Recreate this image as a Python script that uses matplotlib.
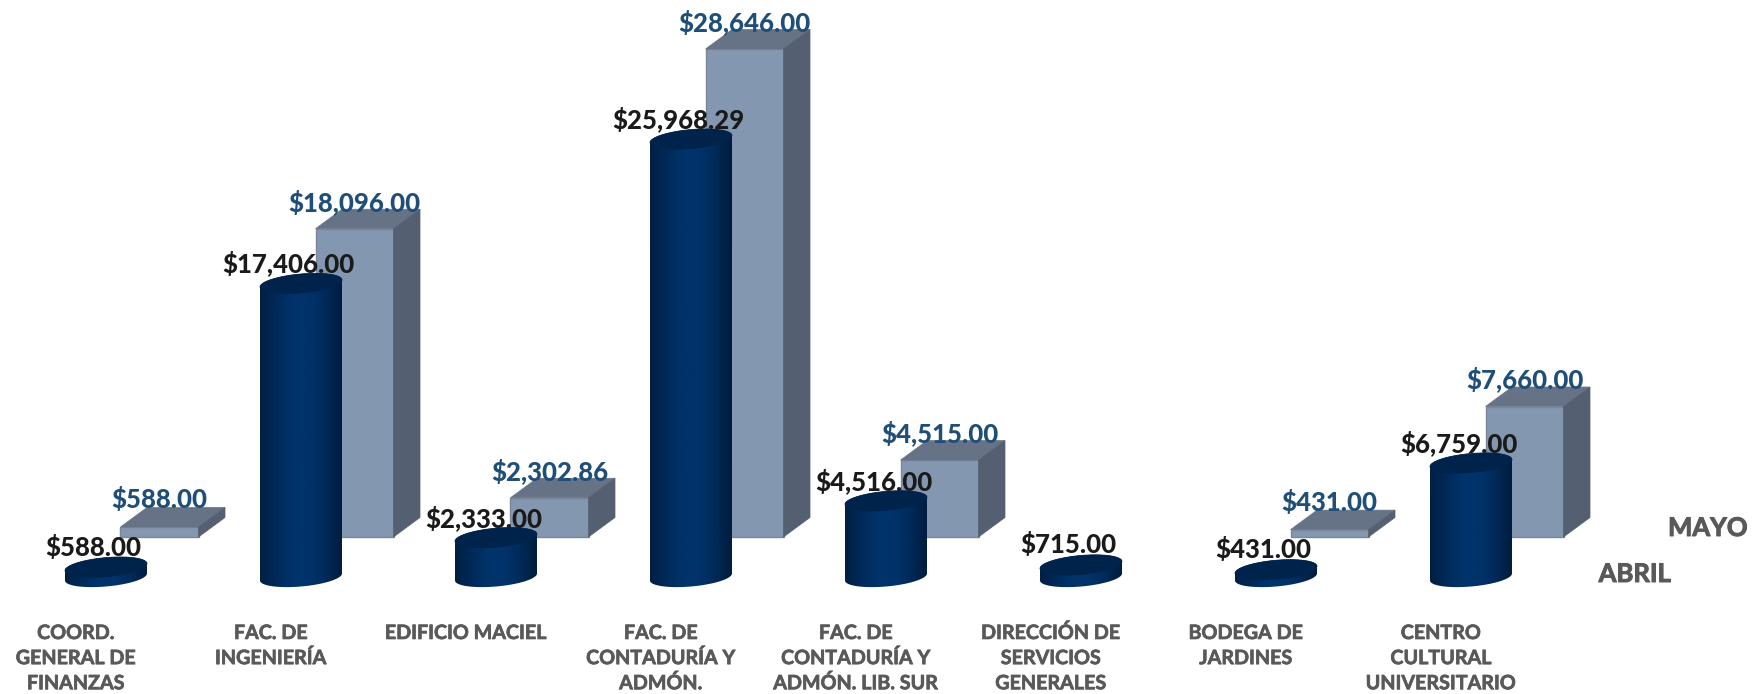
import numpy as np
import matplotlib
matplotlib.use('Agg')
import matplotlib.pyplot as plt
import matplotlib.patheffects as pe
from matplotlib.colors import LinearSegmentedColormap
from matplotlib.patches import Polygon, PathPatch
from matplotlib.path import Path

categories = ['COORD.\nGENERAL DE\nFINANZAS', 'FAC. DE\nINGENIERÍA', 'EDIFICIO MACIEL',
              'FAC. DE\nCONTADURÍA Y\nADMÓN.', 'FAC. DE\nCONTADURÍA Y\nADMÓN. LIB. SUR',
              'DIRECCIÓN DE\nSERVICIOS\nGENERALES', 'BODEGA DE\nJARDINES',
              'CENTRO\nCULTURAL\nUNIVERSITARIO']
abril = [588.00, 17406.00, 2333.00, 25968.29, 4516.00, 715.00, 431.00, 6759.00]
mayo = [588.00, 18096.00, 2302.86, 28646.00, 4515.00, None, 431.00, 7660.00]

W, H = 1764, 694
PX_X = 195.0            # px per category
PX_Y = 488 / 28646      # px per peso
X0, Y0 = 106, 537       # px of first category, px of the box floor

plt.rcParams['font.family'] = ['Lato', 'DejaVu Sans']
fig = plt.figure(figsize=(W / 100, H / 100), dpi=100)
ax = fig.add_axes([0, 0, 1, 1])
ax.axis('off')
xlim = (-X0 / PX_X, (W - X0) / PX_X)
ylim = ((Y0 - H) / PX_Y, Y0 / PX_Y)


def dx(px):
    return px / PX_X


def dy(px):
    return px / PX_Y


def fmt(v):
    return f'${v:,.2f}'


def thick(color, w=0.7):
    return [pe.withStroke(linewidth=w, foreground=color)]


cyl_cmap = LinearSegmentedColormap.from_list(
    'cyl', ['#001f42', '#002a59', '#00336a', '#00336a', '#002a59', '#001c3d'])
grad = np.linspace(0, 1, 256).reshape(1, -1)

box_off, box_w, depth_x, depth_y = dx(53.5), dx(78), dx(26.5), dy(19.5)
cyl_r, cyl_ry, cyl_base, cyl_skew = dx(41), dy(9.5), dy(-40), dy(-3.5)
cyl_scale = 0.99

# boxes (MAYO)
for i, v in enumerate(mayo):
    if v is None:
        continue
    l, r = i + box_off - box_w / 2, i + box_off + box_w / 2
    ax.add_patch(Polygon([(l, 0), (r, 0), (r, v), (l, v)], fc='#8497b0', ec='#7b8799', lw=1, zorder=2))
    ax.add_patch(Polygon([(l, v), (r, v), (r + depth_x, v + depth_y), (l + depth_x, v + depth_y)],
                         fc='#667387', ec='#667387', lw=0.5, zorder=2))
    ax.add_patch(Polygon([(r, 0), (r + depth_x, depth_y), (r + depth_x, v + depth_y), (r, v)],
                         fc='#545f71', ec='#545f71', lw=0.5, zorder=2))

# cylinders (ABRIL)
t = np.linspace(0, 2 * np.pi, 120)
for i, v in enumerate(abril):
    top = cyl_base + v * cyl_scale
    ex = np.cos(t)
    low = t[:61]
    # outline: lower half of the base + upper half of the top ellipse
    bx = i + cyl_r * np.cos(low + np.pi)
    by = cyl_base + cyl_ry * np.sin(low + np.pi) - cyl_skew * np.cos(low + np.pi)
    tx = i + cyl_r * np.cos(low)
    ty = top + cyl_ry * np.sin(low) - cyl_skew * np.cos(low)
    verts = np.column_stack([np.r_[bx, tx], np.r_[by, ty]])
    body = PathPatch(Path(np.vstack([verts, verts[0]])), fc='none', ec='none', zorder=3)
    ax.add_patch(body)
    im = ax.imshow(grad, cmap=cyl_cmap, aspect='auto', zorder=3,
                   extent=(i - cyl_r, i + cyl_r, cyl_base - dy(30), top + dy(30)))
    im.set_clip_path(body)
    ex_pts = np.column_stack([i + cyl_r * ex, top + cyl_ry * np.sin(t) - cyl_skew * ex])
    ax.add_patch(Polygon(ex_pts, fc='#00234c', ec='#00234c', lw=0.5, zorder=4))
    ax.text(i - dx(12.5), top + dy(20), fmt(v), ha='center', va='center',
            fontsize=18.5, fontweight='black', color='#1a1a1a', zorder=6)

for i, v in enumerate(mayo):
    if v is not None:
        ax.text(i + box_off, v + dy(27), fmt(v), ha='center', va='center',
                fontsize=18.5, fontweight='black', color='#1f4e79', zorder=5)

for i, c in enumerate(categories):
    ax.text(i - dx(30), dy(-86), c, ha='center', va='top', fontsize=14.2,
            fontweight='bold', color='#595959', linespacing=1.32,
            path_effects=thick('#595959', 0.5))

ax.text(dx(1708 - X0), dy(Y0 - 528), 'MAYO', ha='center', va='center',
        fontsize=18.5, fontweight='bold', color='#595959', path_effects=thick('#595959'))
ax.text(dx(1635 - X0), dy(Y0 - 574), 'ABRIL', ha='center', va='center',
        fontsize=18.5, fontweight='bold', color='#595959', path_effects=thick('#595959'))

ax.set_xlim(*xlim)
ax.set_ylim(*ylim)
fig.savefig('out.png', dpi=100)
